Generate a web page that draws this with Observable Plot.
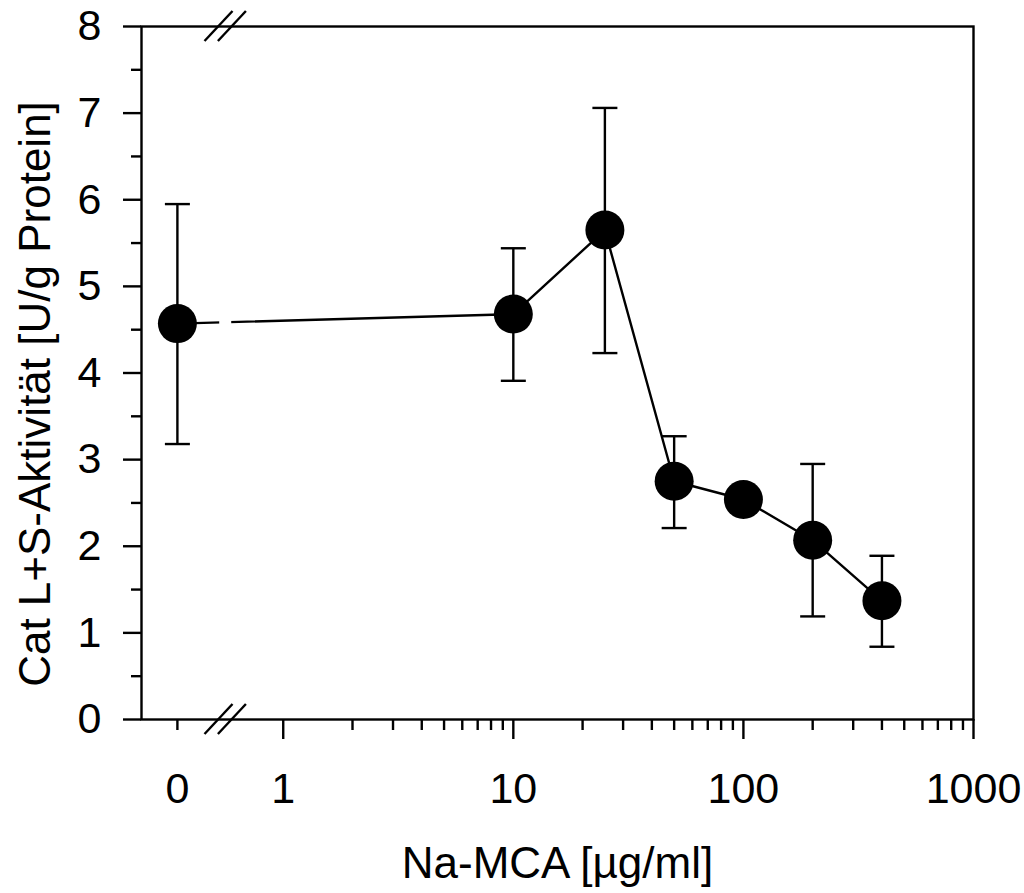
<!DOCTYPE html>
<html>
<head>
<meta charset="utf-8">
<script src="https://cdn.jsdelivr.net/npm/d3@7"></script>
<script src="https://cdn.jsdelivr.net/npm/@observablehq/plot@0.6"></script>
<style>
  html, body { margin: 0; padding: 0; background: white; }
</style>
</head>
<body>
<div id="chart"></div>
<script>
// ---- Data ----
const concentration = [0, 10, 25, 50, 100, 200, 400];          // Na-MCA [µg/ml]
const activity      = [4.57, 4.68, 5.65, 2.75, 2.54, 2.07, 1.37]; // Cat L+S activity [U/g protein]
const errorLow      = [3.18, 3.91, 4.23, 2.21, 2.42, 1.19, 0.84];
const errorHigh     = [5.95, 5.44, 7.06, 3.27, 2.66, 2.95, 1.89];
const xTickValues   = [0, 1, 10, 100, 1000];
const xTickLabels   = ["0", "1", "10", "100", "1000"];
const yTickValues   = [0, 1, 2, 3, 4, 5, 6, 7, 8];
const xTitle = "Na-MCA [µg/ml]";
const yTitle = "Cat L+S-Aktivität [U/g Protein]";

// ---- Broken axis: 0 is shown left of the log-scaled part ----
const ZERO_POS = -0.46;   // position (in decades) of the "0" category
const BREAK_POS = -0.25;  // position of the axis break
const pos = c => c === 0 ? ZERO_POS : Math.log10(c);

const rows = concentration.map((c, i) => ({
  u: pos(c), v: activity[i], lo: errorLow[i], hi: errorHigh[i]
}));

const xMajor = xTickValues.filter(c => c > 0).map(pos);
const xMinor = [ZERO_POS];
for (let d = 0; d < 3; d++) for (let k = 2; k <= 9; k++) xMinor.push(Math.log10(k * 10 ** d));
const labelByPos = new Map(xTickValues.map((c, i) => [pos(c), xTickLabels[i]]));
const yMinor = yTickValues.slice(0, -1).map(v => v + 0.5);

const capSymbol = {
  draw(context, size) {
    const r = Math.sqrt(size / Math.PI);
    context.moveTo(-r, 0);
    context.lineTo(r, 0);
  }
};

function breakMark(index, scales, values, dimensions) {
  const {x} = scales;
  const {marginTop, marginBottom, height} = dimensions;
  const cx = x(BREAK_POS);
  const g = d3.create("svg:g");
  g.append("rect")
    .attr("x", cx - 6).attr("width", 12)
    .attr("y", marginTop + 2).attr("height", height - marginTop - marginBottom - 4)
    .attr("fill", "white");
  for (const yy of [marginTop, height - marginBottom]) {
    for (const off of [-6.7, 6.7]) {
      g.append("line")
        .attr("x1", cx + off - 14).attr("y1", yy + 15)
        .attr("x2", cx + off + 14).attr("y2", yy - 15)
        .attr("stroke", "black").attr("stroke-width", 2.4);
    }
  }
  return g.node();
}

const SW = 2.4;

const chart = Plot.plot({
  width: 1024,
  height: 893,
  marginLeft: 141,
  marginRight: 51,
  marginTop: 26,
  marginBottom: 174,
  style: {
    fontFamily: "'Liberation Sans', Arial, sans-serif",
    fontSize: "43px",
    color: "black",
    background: "white"
  },
  x: {type: "linear", domain: [-0.616, 3], label: null},
  y: {domain: [0, 8], label: null},
  marks: [
    Plot.line(rows, {x: "u", y: "v", stroke: "black", strokeWidth: SW}),
    Plot.ruleX(rows, {x: "u", y1: "lo", y2: "hi", stroke: "black", strokeWidth: SW}),
    Plot.dot(rows, {x: "u", y: "lo", symbol: capSymbol, r: 12.5, stroke: "black", strokeWidth: SW, fill: "none"}),
    Plot.dot(rows, {x: "u", y: "hi", symbol: capSymbol, r: 12.5, stroke: "black", strokeWidth: SW, fill: "none"}),
    Plot.dot(rows, {x: "u", y: "v", r: 19.5, fill: "black", stroke: "none"}),
    Plot.frame({stroke: "black", strokeWidth: SW}),
    // y axis
    Plot.axisY({ticks: yTickValues, tickSize: 18, tickPadding: 22, strokeWidth: SW, label: null, tickFormat: d => String(d)}),
    Plot.axisY({ticks: yMinor, tickSize: 10, strokeWidth: SW, label: null, tickFormat: () => ""}),
    // x axis
    Plot.axisX({ticks: xMajor, tickSize: 20, strokeWidth: SW, label: null, tickFormat: () => ""}),
    Plot.axisX({ticks: xMinor, tickSize: 11, strokeWidth: SW, label: null, tickFormat: () => ""}),
    Plot.axisX({ticks: xTickValues.map(pos), tickSize: 0, tickPadding: 53, label: null,
      tickFormat: u => labelByPos.get(u)}),
    breakMark,
    // titles
    Plot.text([xTitle], {frameAnchor: "bottom", text: d => d, dy: 144, fontSize: 44,
      textAnchor: "middle", lineAnchor: "middle", fill: "black"}),
    Plot.text([yTitle], {frameAnchor: "left", text: d => d, rotate: -90, dx: -106, dy: 21, fontSize: 44,
      textAnchor: "middle", lineAnchor: "middle", fill: "black"})
  ]
});

document.getElementById("chart").appendChild(chart);
</script>
</body>
</html>
